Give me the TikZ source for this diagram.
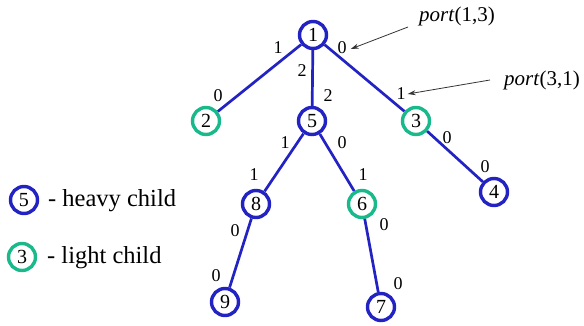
\documentclass[tikz,border=0pt]{standalone}
\usepackage{fontspec}
\setmainfont{Liberation Serif}
\usetikzlibrary{arrows.meta}
\definecolor{heavyblue}{RGB}{35,35,195}
\definecolor{lightgreen}{RGB}{25,185,140}
\begin{document}
\begin{tikzpicture}[x=1pt,y=-1pt,
  vtx/.style={circle,draw=#1,line width=3.4pt,minimum size=27pt,inner sep=0pt,fill=white,font=\fontsize{20}{20}\selectfont},
  heavy/.style={vtx=heavyblue},
  light/.style={vtx=lightgreen},
  edge/.style={draw=heavyblue,line width=2.7pt},
  plab/.style={font=\fontsize{18}{18}\selectfont,inner sep=0pt},
  ptr/.style={draw=black!80,line width=0.8pt,-{Stealth[length=8pt,width=5pt]}},
  legend/.style={font=\fontsize{24.5}{24.5}\selectfont,anchor=west,inner sep=0pt}]
\useasboundingbox (0,0) rectangle (584,326);

% tree vertices
\node[heavy] (n1) at (313,35) {1};
\node[light] (n2) at (206,121) {2};
\node[heavy] (n5) at (312,121) {5};
\node[light] (n3) at (416,121) {3};
\node[heavy] (n4) at (494,192) {4};
\node[heavy] (n8) at (256,204) {8};
\node[light] (n6) at (362,204) {6};
\node[heavy] (n9) at (225,302) {9};
\node[heavy] (n7) at (381,307) {7};

% tree edges
\draw[edge] (n1) -- (n2);
\draw[edge] (n1) -- (n5);
\draw[edge] (n1) -- (n3);
\draw[edge] (n3) -- (n4);
\draw[edge] (n5) -- (n8);
\draw[edge] (n5) -- (n6);
\draw[edge] (n8) -- (n9);
\draw[edge] (n6) -- (n7);

% port numbers at both ends of every edge
\node[plab] (p12) at (278,48) {1};
\node[plab] (p21) at (218,96) {0};
\node[plab] (p15) at (302,71) {2};
\node[plab] (p51) at (328,96) {2};
\node[plab] (p13) at (342,48) {0};
\node[plab] (p31) at (401,94) {1};
\node[plab] (p58) at (285,143) {1};
\node[plab] (p85) at (254,175) {1};
\node[plab] (p56) at (342,143) {0};
\node[plab] (p65) at (363,175) {1};
\node[plab] (p34) at (447,138) {0};
\node[plab] (p43) at (485,167) {0};
\node[plab] (p89) at (235,231) {0};
\node[plab] (p98) at (216,276) {0};
\node[plab] (p67) at (384,225) {0};
\node[plab] (p76) at (398,284) {0};

% port annotations
\node[font=\fontsize{21}{21}\selectfont,anchor=west,inner sep=0pt] (port13) at (419,16) {\textit{port}(1,3)};
\node[font=\fontsize{21}{21}\selectfont,anchor=west,inner sep=0pt] (port31) at (504,80) {\textit{port}(3,1)};
\coordinate (t13) at (408,27);
\coordinate (t31) at (490,80);
\draw[ptr] (t13) -- ([xshift=4pt,yshift=-1pt]p13.east);
\draw[ptr] (t31) -- ([xshift=2pt]p31.east);

% legend
\node[heavy] (lh) at (24,200) {5};
\node[light] (ll) at (22,257) {3};
\node[legend] (th) at (48,201) {- heavy child};
\node[legend] (tl) at (47,258) {- light child};
\end{tikzpicture}
\end{document}
